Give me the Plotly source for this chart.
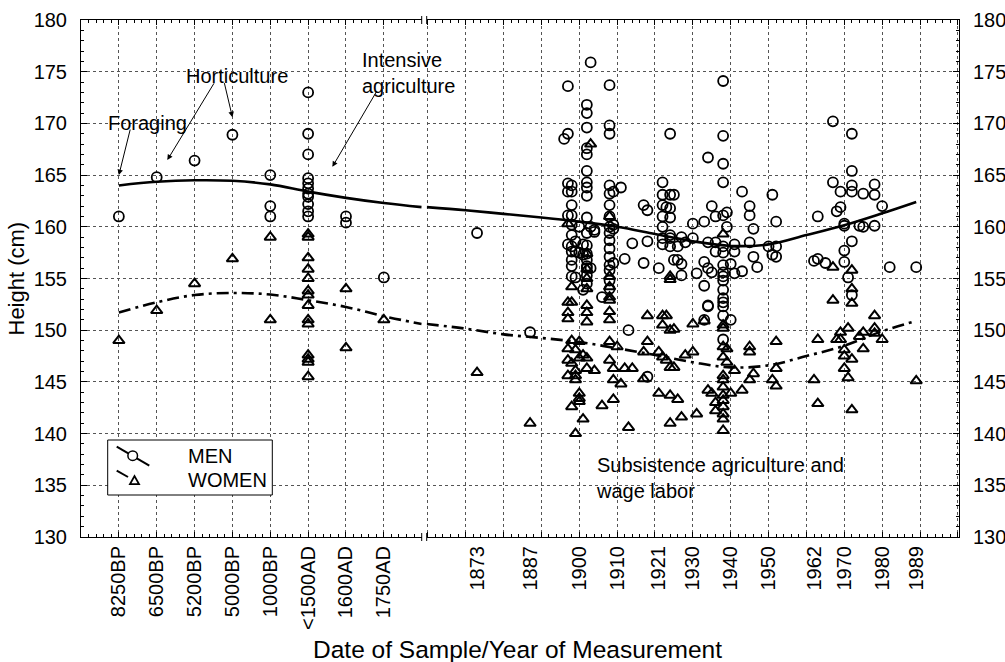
import plotly.graph_objects as go

# ---------------- data ----------------
categories = ["8250BP", "6500BP", "5200BP", "5000BP", "1000BP", "<1500AD", "1600AD", "1750AD"]
year_ticks = [1873, 1887, 1900, 1910, 1921, 1930, 1940, 1950, 1962, 1970, 1980, 1989]
height_ticks = [130, 135, 140, 145, 150, 155, 160, 165, 170, 175, 180]

# prehistoric / historic samples (category, height)
men_anc_cat = ["8250BP", "6500BP", "5200BP", "5000BP", "1000BP", "1000BP", "1000BP"] + ["<1500AD"] * 11 + ["1600AD", "1600AD", "1750AD"]
men_anc_h = [161.0, 164.8, 166.4, 168.9, 165.0, 162.0, 161.0,
             173.0, 169.0, 167.0, 164.7, 164.2, 163.7, 163.2, 162.9, 162.2, 161.5, 161.0,
             161.0, 160.4, 155.1]
women_anc_cat = ["8250BP", "6500BP", "5200BP", "5000BP", "1000BP", "1000BP"] + ["<1500AD"] * 14 + ["1600AD", "1600AD", "1750AD"]
women_anc_h = [149.0, 151.9, 154.5, 156.9, 159.0, 151.0,
               159.3, 159.0, 157.0, 155.9, 155.0, 153.8, 153.4, 152.4, 151.0, 150.6, 147.6, 147.2, 146.9, 145.5,
               154.0, 148.3, 151.0]

# modern measurements (year -> heights)
men_mod_years = [1873, 1887, 1896, 1897, 1898, 1899, 1900, 1901, 1902, 1903, 1904, 1906, 1908, 1909,
                 1911, 1912, 1913, 1914, 1917, 1918, 1921, 1922, 1923, 1924, 1925, 1926, 1927, 1928,
                 1930, 1931, 1933, 1934, 1935, 1936, 1938, 1939, 1940, 1941, 1943, 1945, 1946, 1947,
                 1950, 1951, 1952, 1962, 1963, 1965, 1967, 1968, 1969, 1970, 1971, 1972, 1974, 1975,
                 1978, 1980, 1982, 1989]
men_mod_heights = [
    [159.4], [149.8], [168.5],
    [173.6, 169.0, 164.2, 163.4, 161.1, 158.3],
    [164.0, 163.4, 162.1, 161.1, 160.2, 159.2, 158.1, 157.6, 156.2, 156.8, 155.2],
    [158.6, 157.6, 155.1],
    [160.0, 157.5],
    [158.3, 157.3, 153.9],
    [171.8, 171.0, 169.6, 167.6, 167.0, 165.4, 164.3, 163.8, 163.0, 160.9, 159.4, 158.2, 157.4, 156.8, 156.0, 155.3, 154.5, 156.2],
    [175.9, 160.0, 156.0],
    [159.7, 159.5],
    [153.2],
    [173.7, 169.8, 169.0, 164.0, 163.2, 162.1, 161.0, 160.0, 159.4, 158.7, 157.9, 157.1, 156.3, 155.8, 154.8, 154.0],
    [163.4, 160.2, 159.8, 156.5],
    [163.8], [156.9], [150.0], [158.4],
    [162.1, 156.5],
    [161.6, 158.6, 145.5],
    [156.0],
    [164.3, 163.1, 162.1, 161.0, 158.9, 158.3, 160.0],
    [161.9],
    [169.0, 163.1, 161.8, 160.9, 158.9, 158.1, 159.2],
    [163.1, 156.8],
    [158.1, 156.8],
    [159.0, 156.4, 155.3],
    [158.5],
    [160.3, 158.9],
    [155.5],
    [160.5, 156.6, 154.3, 151.0],
    [166.7, 158.5, 156.0, 152.3, 152.4],
    [162.0, 155.6],
    [161.0, 158.5, 157.6],
    [174.1, 168.8, 166.1, 164.3, 161.1, 158.1, 157.5, 156.3, 155.6, 154.8, 153.9, 153.1, 152.3, 152.7, 151.4, 149.1, 155.2],
    [161.4, 160.0],
    [156.4, 151.0],
    [158.3, 157.6, 155.5],
    [163.4, 155.7],
    [162.0, 161.1, 158.5],
    [159.8, 157.1],
    [156.1],
    [158.1],
    [163.1, 157.3],
    [160.5, 158.1, 157.1],
    [156.7],
    [161.0, 156.9],
    [156.5],
    [170.2, 164.3],
    [161.5],
    [163.4, 161.9],
    [160.1, 160.3, 157.7, 156.6],
    [155.1],
    [169.0, 165.4, 164.0, 163.4, 158.6, 153.4],
    [160.1],
    [163.2, 160.0],
    [164.1, 163.1, 160.1],
    [162.0], [156.1], [156.1],
]

women_mod_years = [1873, 1887, 1897, 1898, 1899, 1900, 1901, 1902, 1903, 1904, 1906, 1908, 1909, 1910,
                   1911, 1912, 1913, 1914, 1917, 1918, 1921, 1922, 1923, 1924, 1925, 1926, 1927, 1928,
                   1930, 1931, 1933, 1934, 1935, 1936, 1938, 1939, 1940, 1941, 1943, 1945, 1946, 1951,
                   1952, 1962, 1963, 1967, 1968, 1969, 1970, 1971, 1972, 1974, 1975, 1978, 1980, 1989]
women_mod_heights = [
    [145.9], [141.0],
    [160.3, 152.7, 151.7, 151.1, 148.2, 147.1, 145.6],
    [154.2, 152.7, 149.0, 146.8, 142.6],
    [148.1, 146.1, 145.6, 145.2, 140.0],
    [148.9, 147.3, 143.9, 143.4, 143.1],
    [147.6, 141.4],
    [157.4, 155.9, 155.0, 154.0, 152.4, 151.7, 150.8, 147.3, 146.3],
    [168.0],
    [146.1],
    [142.7],
    [161.0, 155.2, 154.2, 153.2, 152.9, 151.8, 151.0, 148.9, 147.1],
    [146.3, 145.2, 143.3],
    [148.4], [144.8], [146.3], [140.6], [146.3],
    [147.9, 145.3],
    [151.4, 148.9],
    [147.9, 143.9],
    [151.4, 150.5, 147.4],
    [147.1, 151.4],
    [155.2, 150.0, 146.4, 143.7, 141.0, 154.9],
    [150.1, 146.4],
    [143.3], [141.6], [147.6],
    [150.6, 147.9],
    [141.9], [150.9], [144.2], [143.9],
    [143.0, 142.2],
    [159.3, 150.5, 150.2, 148.4, 147.4, 145.6, 145.2, 144.5, 143.7, 143.2, 142.6, 141.9, 141.4, 140.3],
    [148.2, 146.9],
    [143.9], [146.1], [144.2],
    [148.4, 147.9, 145.2],
    [145.8], [145.2],
    [148.9, 146.3, 144.6],
    [145.2],
    [149.1, 142.9],
    [156.1, 152.9],
    [149.1],
    [149.8, 149.1],
    [148.1, 147.5, 146.3],
    [150.2, 145.4],
    [155.8, 154.0, 152.6, 147.2, 142.3],
    [149.4],
    [149.8, 148.2],
    [151.4, 150.2, 149.7],
    [149.1], [145.1],
]

# smoothed trend lines
trend_anc_pos = [0, 1, 2, 3, 4, 5, 6, 7, 8.0]
men_trend_anc = [164.0, 164.35, 164.5, 164.45, 164.1, 163.4, 162.8, 162.3, 161.9]
women_trend_anc = [151.7, 152.7, 153.4, 153.6, 153.45, 152.9, 152.25, 151.35, 150.6]
trend_mod_years = [1859.7, 1870, 1880, 1890, 1900, 1910, 1920, 1930, 1940, 1950, 1960, 1970, 1980, 1989]
men_trend_mod = [161.9, 161.6, 161.25, 160.9, 160.5, 160.0, 159.3, 158.6, 158.15, 158.3, 159.2, 160.15, 161.3, 162.4]
women_trend_mod = [150.6, 150.15, 149.6, 149.25, 148.85, 148.25, 147.6, 146.9, 146.4, 146.6, 147.5, 148.5, 149.9, 150.9]

# ---------------- helpers ----------------
def flatten(years, groups):
    xs, ys = [], []
    for yr, hs in zip(years, groups):
        for h in hs:
            xs.append(yr)
            ys.append(h)
    return xs, ys

men_mod_x, men_mod_y = flatten(men_mod_years, men_mod_heights)
women_mod_x, women_mod_y = flatten(women_mod_years, women_mod_heights)
men_anc_x = [categories.index(c) for c in men_anc_cat]
women_anc_x = [categories.index(c) for c in women_anc_cat]

FONT = "Arial, Liberation Sans, sans-serif"
GRID = "#555555"
circle = dict(symbol="circle-open", size=10, color="black", line=dict(width=1.8, color="black"))
tri = dict(symbol="triangle-up-open", size=10, color="black", line=dict(width=2, color="black"))
solid = dict(color="black", width=2.6)
dashdot = dict(color="black", width=2.6, dash="12px,5px,3px,5px")

fig = go.Figure()
# ancient segment
fig.add_trace(go.Scatter(x=men_anc_x, y=men_anc_h, mode="markers", marker=circle, xaxis="x", yaxis="y", showlegend=False))
fig.add_trace(go.Scatter(x=women_anc_x, y=women_anc_h, mode="markers", marker=tri, xaxis="x", yaxis="y", showlegend=False))
fig.add_trace(go.Scatter(x=trend_anc_pos, y=men_trend_anc, mode="lines", line=solid, line_shape="spline", xaxis="x", yaxis="y", showlegend=False))
fig.add_trace(go.Scatter(x=trend_anc_pos, y=women_trend_anc, mode="lines", line=dashdot, line_shape="spline", xaxis="x", yaxis="y", showlegend=False))
# modern segment
fig.add_trace(go.Scatter(x=men_mod_x, y=men_mod_y, mode="markers", marker=circle, xaxis="x2", yaxis="y2", showlegend=False))
fig.add_trace(go.Scatter(x=women_mod_x, y=women_mod_y, mode="markers", marker=tri, xaxis="x2", yaxis="y2", showlegend=False))
fig.add_trace(go.Scatter(x=trend_mod_years, y=men_trend_mod, mode="lines", line=solid, line_shape="spline", xaxis="x3", yaxis="y2", showlegend=False))
fig.add_trace(go.Scatter(x=trend_mod_years, y=women_trend_mod, mode="lines", line=dashdot, line_shape="spline", xaxis="x3", yaxis="y2", showlegend=False))

# ---------------- geometry ----------------
W, H = 1005, 662
ML, MT, MR, MB = 81, 20, 46, 125
PW, PH = W - ML - MR, H - MT - MB
def px(p):
    """page pixel x -> paper fraction"""
    return (p - ML) / PW
def py(p):
    """page pixel y -> paper fraction"""
    return (MT + PH - p) / PH

left_dom = [0, px(421.7)]
right_dom = [px(426.7), 1]
tickfont = dict(family=FONT, size=20, color="black")

fig.update_layout(
    width=W, height=H, margin=dict(l=ML, r=MR, t=MT, b=MB, autoexpand=False),
    paper_bgcolor="white", plot_bgcolor="white", showlegend=False,
    font=dict(family=FONT, color="black"),
    xaxis=dict(domain=left_dom, range=[-1, 8.0], tickmode="array", tickvals=list(range(len(categories))),
               ticktext=[c.replace("<", "&lt;") for c in categories], tickangle=-90, tickfont=tickfont,
               showgrid=True, gridcolor=GRID, griddash="dot", gridwidth=1, zeroline=False,
               showline=True, linecolor="black", linewidth=1, mirror="ticks",
               ticks="inside", ticklen=5, tickcolor="black", ticklabelstandoff=0,
               minor=dict(tickmode="linear", tick0=0, dtick=0.2, ticks="inside", ticklen=3, tickcolor="black", showgrid=False),
               anchor="y", automargin=False),
    xaxis2=dict(domain=right_dom, range=[1859.7, 2000.3], tickmode="array", tickvals=year_ticks,
                ticktext=[str(y) for y in year_ticks], tickangle=-90, tickfont=tickfont,
                showgrid=False, zeroline=False, ticks="", ticklabelstandoff=0,
                showline=True, linecolor="black", linewidth=1, mirror=True,
                anchor="y2", automargin=False),
    xaxis3=dict(range=[1859.7, 2000.3], overlaying="x2", anchor="y2", tickmode="linear", tick0=1860, dtick=10,
                showticklabels=False, showgrid=True, gridcolor=GRID, griddash="dot", gridwidth=1, zeroline=False,
                ticks="inside", ticklen=5, tickcolor="black", mirror="ticks", showline=False,
                minor=dict(tickmode="linear", tick0=1860, dtick=2, ticks="inside", ticklen=3, tickcolor="black", showgrid=False),
                side="bottom", automargin=False),
    yaxis=dict(domain=[0, 1], range=[130, 180], tickmode="array", tickvals=height_ticks, tickfont=tickfont,
               showgrid=True, gridcolor=GRID, griddash="dot", gridwidth=1, zeroline=False,
               showline=True, linecolor="black", linewidth=1, ticks="inside", ticklen=6, tickcolor="black",
               ticklabelstandoff=9,
               minor=dict(tickmode="linear", tick0=130, dtick=1, ticks="inside", ticklen=3, tickcolor="black", showgrid=False),
               anchor="x", automargin=False),
    yaxis2=dict(domain=[0, 1], range=[130, 180], tickmode="array", tickvals=height_ticks, tickfont=tickfont,
                showgrid=True, gridcolor=GRID, griddash="dot", gridwidth=1, zeroline=False, side="right",
                showline=True, linecolor="black", linewidth=1, ticks="inside", ticklen=6, tickcolor="black",
                ticklabelstandoff=9,
                minor=dict(tickmode="linear", tick0=130, dtick=1, ticks="inside", ticklen=3, tickcolor="black", showgrid=False),
                anchor="x2", automargin=False),
)

annfont = dict(family=FONT, size=20, color="black")
ann = []
# axis titles
ann.append(dict(text="Date of Sample/Year of Measurement", xref="paper", yref="paper", x=px(517.5), y=py(649),
                xanchor="center", yanchor="middle", showarrow=False, font=dict(family=FONT, size=24.5, color="black")))
ann.append(dict(text="Height (cm)", xref="paper", yref="paper", x=px(16), y=0.5, textangle=-90,
                xanchor="center", yanchor="middle", showarrow=False, font=dict(family=FONT, size=22, color="black")))
# phase labels
ann.append(dict(text="Foraging", xref="x", yref="y", x=0.75, y=170.05, showarrow=False, font=annfont,
                xanchor="center", yanchor="middle"))
ann.append(dict(text="Horticulture", xref="x", yref="y", x=3.13, y=174.6, showarrow=False, font=annfont,
                xanchor="center", yanchor="middle"))
ann.append(dict(text="Intensive<br>agriculture", xref="x", yref="y", x=6.36, y=174.85, showarrow=False, font=annfont,
                xanchor="left", yanchor="middle", align="left"))
ann.append(dict(text="Subsistence agriculture and<br>wage labor", xref="x2", yref="y2", x=1903.8, y=135.7,
                showarrow=False, font=annfont, xanchor="left", yanchor="middle", align="left"))
# arrows (head in data units, tail as pixel offset)
arrow_spec = [
    (0.0, 165.0, 11.7, -47),
    (1.28, 166.45, 47.6, -78.3),
    (3.0, 170.6, -8.4, -35.6),
    (5.64, 165.8, 45, -76.7),
]
for hx, hy, axp, ayp in arrow_spec:
    ann.append(dict(text="", xref="x", yref="y", x=hx, y=hy, ax=axp, ay=ayp, showarrow=True,
                    arrowhead=2, arrowsize=1.1, arrowwidth=1, arrowcolor="black", standoff=0, startstandoff=0))
# legend text
ann.append(dict(text="MEN", xref="paper", yref="paper", x=px(186), y=py(456), xanchor="left", yanchor="middle",
                showarrow=False, font=annfont))
ann.append(dict(text="WOMEN", xref="paper", yref="paper", x=px(186), y=py(480), xanchor="left", yanchor="middle",
                showarrow=False, font=annfont))
fig.update_layout(annotations=ann)

shapes = []
# axis break marks
for bx in (421.7, 426.7):
    for by in (MT, MT + PH):
        shapes.append(dict(type="line", xref="paper", yref="paper", x0=px(bx), x1=px(bx), y0=py(by - 4), y1=py(by + 4),
                           line=dict(color="black", width=1)))
# manual legend box
shapes.append(dict(type="rect", xref="paper", yref="paper", x0=px(107.7), x1=px(272.3), y0=py(495), y1=py(440),
                   line=dict(color="black", width=1), fillcolor="white", layer="above"))
shapes.append(dict(type="line", xref="paper", yref="paper", x0=px(116.7), y0=py(446.7), x1=px(149.3), y1=py(465.7),
                   line=dict(color="black", width=2), layer="above"))
r = 4.8
shapes.append(dict(type="circle", xref="paper", yref="paper", x0=px(132.7 - r), x1=px(132.7 + r),
                   y0=py(455.7 + r), y1=py(455.7 - r), line=dict(color="black", width=1.5), fillcolor="white", layer="above"))
shapes.append(dict(type="line", xref="paper", yref="paper", x0=px(116.7), y0=py(470.7), x1=px(128), y1=py(477),
                   line=dict(color="black", width=2), layer="above"))
tx, ty, s = 134.5, 480.5, 4.5
shapes.append(dict(type="path", xref="paper", yref="paper",
                   path=f"M {px(tx - s)} {py(ty + s * 0.8)} L {px(tx + s)} {py(ty + s * 0.8)} L {px(tx)} {py(ty - s)} Z",
                   line=dict(color="black", width=1.8), fillcolor="white", layer="above"))
fig.update_layout(shapes=shapes)

# remove the default page margin so the 1005x662 figure fills the window exactly
fig.write_html("out.html", config={"displayModeBar": False},
               post_script="document.body.style.margin='0';document.body.style.overflow='hidden';")
